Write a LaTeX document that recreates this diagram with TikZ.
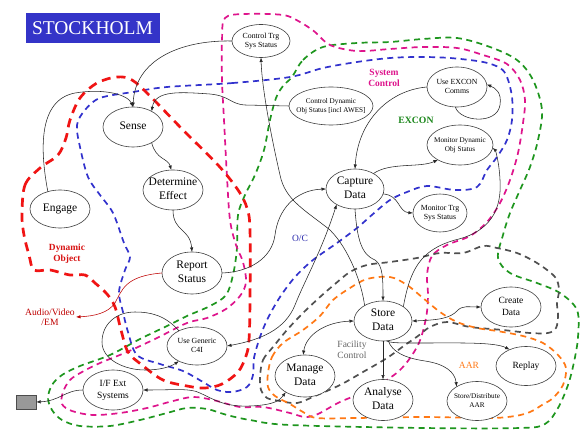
\documentclass[tikz,border=0pt]{standalone}
\usepackage{fontspec}
\setmainfont{Liberation Serif}
\usetikzlibrary{shapes.geometric,arrows.meta}
\newcommand{\zt}[1]{\makebox[0pt][c]{\begin{tabular}{@{}c@{}}#1\end{tabular}}}
\definecolor{tblue}{RGB}{52,52,200}
\definecolor{rred}{RGB}{240,20,20}
\definecolor{rblue}{RGB}{50,50,205}
\definecolor{rmag}{RGB}{222,20,140}
\definecolor{rgreen}{RGB}{30,150,30}
\definecolor{rgray}{RGB}{80,80,80}
\definecolor{rorange}{RGB}{255,120,20}
\begin{document}
\begin{tikzpicture}[x=1pt,y=-1pt,
  ell/.style={draw=black!75, line width=0.6pt, fill=white, ellipse, inner sep=0pt, outer sep=0pt},
  es/.style 2 args={minimum width=#1pt, minimum height=#2pt},
  big/.style={font=\fontsize{11.5}{13.5}\selectfont},
  mid/.style={font=\fontsize{9.5}{11.5}\selectfont},
  sm/.style={font=\fontsize{7.8}{9.5}\selectfont},
  tiny/.style={font=\fontsize{7.2}{8.8}\selectfont},
  lab/.style={font=\fontsize{9.5}{11}\selectfont, inner sep=1pt},
  arr/.style={line width=0.55pt, draw=black!85, -{Latex[length=4.5pt,width=3.4pt]}},
  darr/.style={line width=0.55pt, draw=black!85, {Latex[length=4.5pt,width=3.4pt]}-{Latex[length=4.5pt,width=3.4pt]}},
  reg/.style={dash pattern=on 6pt off 4.5pt, line width=1.7pt},
  redreg/.style={dash pattern=on 9pt off 6pt, line width=2.7pt, draw=rred},
]
\useasboundingbox (0,0) rectangle (580,430);
\fill[white] (0,0) rectangle (580,430);

% title
\node[fill=tblue, text=white, minimum width=134pt, minimum height=30pt, inner sep=0pt,
      font=\fontsize{19.5}{22}\selectfont] (title) at (92.5,28) {STOCKHOLM};

% ---- dashed regions ----
\draw[reg, draw=rgreen] plot[smooth cycle, tension=0.55] coordinates {(292,77) (303,60) (323,47) (357,43) (390,42) (423,39) (457,38) (490,47) (517,60) (533,80) (542,110) (538,140) (530,167) (520,190) (510,213) (503,235) (498,258) (510,273) (537,283) (560,293) (577,310) (578,337) (574,362) (568,385) (558,408) (545,424) (520,428) (423,428) (290,425) (250,420) (227,415) (207,409) (187,408) (167,413) (140,420) (110,426) (80,426) (62,420) (52,410) (48,398) (52,385) (62,375) (80,366) (110,355) (140,339) (167,326) (187,316) (210,306) (226,295) (233,275) (237,248) (238,215) (245,195) (255,175) (264,150) (270,120) (276,98) (283,86)};

\draw[reg, draw=rmag] plot[smooth cycle, tension=0.55] coordinates {(222,80) (222,40) (225,18) (245,14) (283,15) (300,22) (315,32) (330,45) (357,51) (390,49) (423,47) (457,48) (483,55) (507,64) (520,80) (525,100) (523,123) (518,153) (510,180) (500,203) (487,222) (470,236) (447,245) (432,256) (427,275) (428,295) (426,318) (418,345) (400,370) (373,388) (340,402) (318,414) (305,417) (290,413) (263,407) (240,407) (213,400) (193,397) (173,401) (147,408) (120,413) (93,415) (72,411) (62,404) (63,392) (70,380) (82,372) (100,363) (127,352) (157,338) (187,323) (207,318) (226,309) (240,296) (246,282) (243,262) (236,245) (230,220) (227,177) (224,120)};

\draw[reg, draw=rblue] plot[smooth cycle, tension=0.55] coordinates {(290,77) (233,83) (167,87) (133,92) (100,98) (85,110) (77,125) (80,147) (88,177) (100,195) (113,213) (124,243) (130,257) (125,270) (119,292) (123,312) (128,332) (137,355) (160,364) (183,371) (203,382) (217,390) (232,392) (247,387) (253,375) (254,358) (260,337) (268,318) (280,297) (295,277) (313,260) (337,243) (357,228) (373,214) (390,200) (407,192) (427,186) (455,190) (477,187) (487,170) (497,157) (507,140) (512,120) (512,97) (507,77) (500,68) (483,62) (450,58) (420,57) (390,58) (357,62) (323,68)};

\draw[redreg] plot[smooth cycle, tension=0.55] coordinates {(22,215) (25,185) (40,168) (58,155) (66,138) (70,120) (80,98) (97,83) (117,77) (132,80) (150,96) (183,130) (218,165) (238,190) (247,208) (250,230) (250,300) (249,340) (246,356) (238,372) (222,384) (205,388) (187,386) (163,380) (142,365) (128,352) (121,330) (115,307) (107,294) (95,283) (85,275) (70,275) (50,270) (34,270) (29,255) (24,235)};

\draw[reg, draw=rgray] plot[smooth cycle, tension=0.55] coordinates {(260,377) (263,360) (273,347) (287,330) (303,313) (320,297) (335,284) (350,272) (367,265) (390,262) (417,258) (440,253) (463,253) (483,246) (497,248) (517,253) (537,263) (555,277) (559,290) (557,303) (558,316) (556,328) (548,333) (530,333) (503,330) (470,327) (447,322) (430,327) (418,336) (405,345) (387,358) (363,372) (340,385) (315,396) (297,403) (280,401) (267,398) (261,390)};

\draw[reg, draw=rorange] plot[smooth cycle, tension=0.55] coordinates {(268,373) (272,357) (283,343) (303,330) (320,316) (333,300) (350,288) (367,279) (390,277) (407,285) (423,298) (440,312) (457,322) (477,328) (497,331) (523,336) (543,343) (558,355) (566,368) (563,385) (553,398) (542,405) (530,412) (515,416) (490,418) (423,417) (357,418) (317,418) (303,412) (290,404) (275,396) (268,387)};

% ---- region labels ----
\node[lab, text=rmag, font=\bfseries\fontsize{9.5}{11}\selectfont, align=center] (lsys) at (384,78) {System\\Control};
\node[lab, text=rgreen!90!black, font=\bfseries\fontsize{9.7}{11}\selectfont] (lexcon) at (416,120) {EXCON};
\node[lab, text=rred!90!black, font=\bfseries\fontsize{9.4}{11}\selectfont, align=center] (ldyn) at (67,254) {Dynamic\\Object};
\node[lab, text=rblue!85!black] (loc) at (300,238) {O/C};
\node[lab, text=black!60, align=center] (lfac) at (352,350) {Facility\\Control};
\node[lab, text=rorange] (laar) at (469,365) {AAR};
\node[lab, text=red!75!black, align=center, font=\fontsize{9.6}{10.5}\selectfont] (avem) at (50,317) {Audio/Video\\/EM};

% ---- nodes ----
\node[ell, es={58}{33}, sm] (ctss) at (261,41) {\zt{Control Trg\\Sys Status}};
\node[ell, es={60}{40}, big] (sense) at (133,127) {\zt{Sense}};
\node[ell, es={60}{40}, big] (deteff) at (173,190) {\zt{Determine\\Effect}};
\node[ell, es={60}{38}, big] (engage) at (60,209) {\zt{Engage}};
\node[ell, es={60}{42}, big] (report) at (192,273) {\zt{Report\\Status}};
\node[ell, es={58}{40}, big] (capture) at (355,189) {\zt{Capture\\Data}};
\node[ell, es={84}{38}, tiny] (cdos) at (331,106) {\zt{Control Dynamic\\Obj Status [incl AWES]}};
\node[ell, es={60}{40}, sm] (uec) at (457,87) {\zt{Use EXCON\\Comms}};
\node[ell, es={66}{40}, tiny] (mdos) at (460,145) {\zt{Monitor Dynamic\\Obj Status}};
\node[ell, es={54}{38}, sm] (mtss) at (440,213) {\zt{Monitor Trg\\Sys Status}};
\node[ell, es={58}{40}, big] (store) at (383,321) {\zt{Store\\Data}};
\node[ell, es={60}{40}, mid] (create) at (511,307) {\zt{Create\\Data}};
\node[ell, es={60}{39}, mid] (replay) at (526,366) {\zt{Replay}};
\node[ell, es={60}{39}, tiny] (sdaar) at (477,401) {\zt{Store/Distribute\\AAR}};
\node[ell, es={60}{41}, big] (analyse) at (383,400) {\zt{Analyse\\Data}};
\node[ell, es={60}{42}, big] (manage) at (305,376) {\zt{Manage\\Data}};
\node[ell, es={60}{38}, sm] (c4i) at (197,346) {\zt{Use Generic\\C4I}};
\node[ell, es={60}{40}, mid] (ifext) at (113,390) {\zt{I/F Ext\\Systems}};
\node[draw=black!70, fill=black!40, minimum width=20pt, minimum height=14pt, inner sep=0pt] (sq) at (26,402) {};

% ---- connectors ----
\draw[arr] (ctss.180) .. controls (180,40) and (135,60) .. (sense.90);
\draw[arr] (engage.125) .. controls (40,150) and (38,100) .. (75,93) .. controls (105,88) and (128,95) .. (sense.90);
\draw[arr] (cdos.180) -- (245,105) .. controls (230,104) and (230,96) .. (210,94) .. controls (180,92) and (155,90) .. (sense.40);
\draw[arr] (sense.-40) .. controls (156,160) and (168,158) .. (deteff.95);
\draw[arr] (deteff.-90) .. controls (173,232) and (190,228) .. (report.90);
\draw[arr] (report.0) .. controls (250,272) and (272,258) .. (275,235) .. controls (278,210) and (295,190) .. (capture.180);
\draw[arr, draw=red!75!black] (report.180) .. controls (125,276) and (122,290) .. (115,303) .. controls (108,313) and (95,316) .. (avem.east);
\draw[arr] (uec.180) .. controls (390,90) and (358,120) .. (capture.90);
\draw[arr] (uec.-95) .. controls (460,122) and (497,125) .. (500,105) .. controls (502,92) and (495,88) .. (uec.5);
\draw[arr] (capture.40) .. controls (390,162) and (420,168) .. (mdos.-146);
\draw[arr] (capture.-10) .. controls (400,195) and (398,212) .. (mtss.180);
\draw[arr] (store.35) .. controls (410,270) and (420,250) .. (455,240) .. controls (490,232) and (502,210) .. (500,180) .. controls (499,160) and (495,150) .. (mdos.-5);
\draw[arr] (capture.-90) .. controls (357,240) and (362,255) .. (375,260) .. controls (383,265) and (383,280) .. (store.90);
\draw[arr] (store.140) .. controls (362,285) and (350,250) .. (330,230) .. controls (305,210) and (285,200) .. (280,175) .. controls (272,140) and (262,90) .. (ctss.-90);
\draw[darr] (c4i.0) .. controls (260,340) and (285,330) .. (295,305) .. controls (305,280) and (322,250) .. (capture.-140);
\draw[arr] (c4i.140) .. controls (165,315) and (150,312) .. (135,312) .. controls (115,312) and (102,325) .. (102,342) .. controls (102,360) and (125,370) .. (145,370) .. controls (160,370) and (170,367) .. (c4i.-140);
\draw[darr] (ifext.0) .. controls (175,390) and (190,388) .. (200,393) .. controls (215,400) and (225,407) .. (250,406) .. controls (275,405) and (280,400) .. (manage.-140);
\draw[arr] (ifext.180) .. controls (65,390) and (60,401) .. (sq.east);
\draw[darr] (store.180) .. controls (325,322) and (306,335) .. (manage.95);
\draw[darr] (store.0) .. controls (440,320) and (450,318) .. (457,311) .. controls (462,305) and (470,307) .. (create.180);
\draw[arr] (store.-80) .. controls (390,343) and (400,343) .. (420,343) .. controls (460,343) and (495,342) .. (replay.135);
\draw[arr] (store.-75) .. controls (392,352) and (405,358) .. (425,361) .. controls (445,364) and (455,372) .. (sdaar.145);
\draw[arr] (store.-90) -- (analyse.90);
\end{tikzpicture}
\end{document}
